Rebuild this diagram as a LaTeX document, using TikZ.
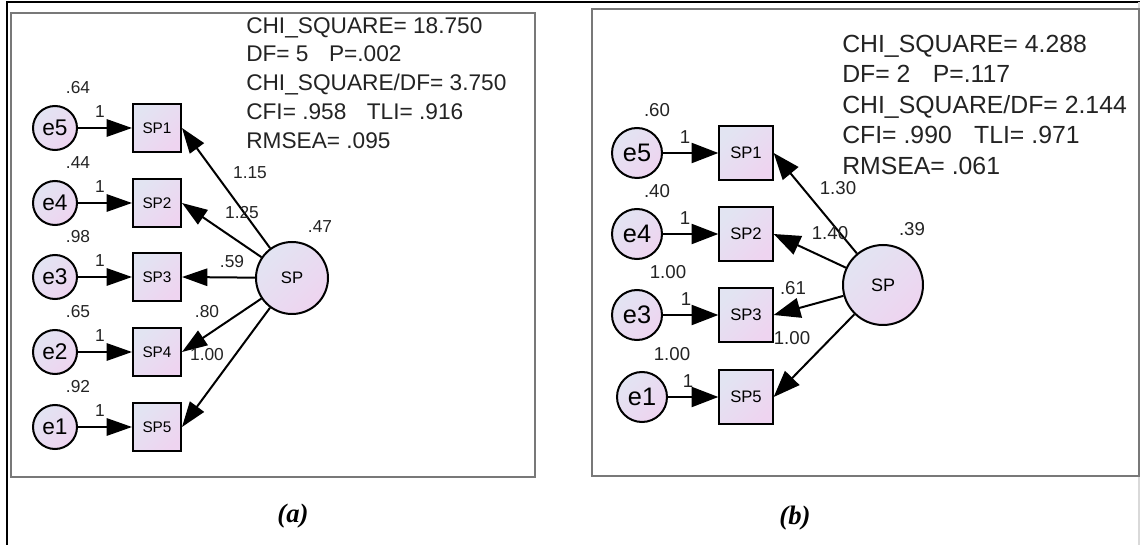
\documentclass[tikz,border=0pt]{standalone}
\usepackage{fontspec}
\setmainfont{Liberation Sans}
\newfontfamily\capfont{Liberation Serif}
\usetikzlibrary{arrows.meta}
\definecolor{lavA}{RGB}{226,228,242}
\definecolor{lavB}{RGB}{238,212,240}
\definecolor{framegrey}{RGB}{120,120,120}
\definecolor{ink}{RGB}{35,35,35}
\begin{document}
\begin{tikzpicture}[x=0.75pt,y=-0.75pt,
  lav/.style={top color=lavA, bottom color=lavB, shading angle=45, draw=black, line width=1.5pt, inner sep=0pt},
  erra/.style={lav, circle, minimum size=33pt, font=\fontsize{17}{17}\selectfont},
  errb/.style={lav, circle, minimum size=37.5pt, font=\fontsize{19}{19}\selectfont},
  boxa/.style={lav, rectangle, minimum size=36pt, font=\fontsize{11.5}{11.5}\selectfont},
  boxb/.style={lav, rectangle, minimum size=40pt, font=\fontsize{12.5}{12.5}\selectfont},
  lata/.style={lav, circle, minimum size=54pt, font=\fontsize{12.5}{12.5}\selectfont},
  latb/.style={lav, circle, minimum size=60pt, font=\fontsize{13.5}{13.5}\selectfont},
  lbla/.style={inner sep=0pt, text=ink, font=\fontsize{13}{13}\selectfont},
  lblb/.style={inner sep=0pt, text=ink, font=\fontsize{14}{14}\selectfont},
  arra/.style={line width=1.5pt, -{Triangle[length=19pt,width=13pt]}},
  arrb/.style={line width=1.5pt, -{Triangle[length=20pt,width=15pt]}},
  statsbox/.style={inner sep=0pt, anchor=north west, align=left, text=ink},
  panelbox/.style={draw=framegrey, line width=2.2pt},
  captxt/.style={font=\capfont\bfseries\itshape\fontsize{20}{20}\selectfont}
]
\useasboundingbox (0,0) rectangle (1140,545);
% outer frame
\draw[line width=1.6pt] (7,545) -- (7,2) -- (1140,2);
\draw[line width=0.8pt, draw=black!15] (1139,2) -- (1139,545);
% panels
\draw[panelbox] (11,13) rectangle (535,477);
\draw[panelbox] (592,9) rectangle (1139,476);

% ---------- panel (a) ----------
\node[statsbox, font=\fontsize{17}{21.6}\selectfont] (afit) at (246,17)
 {CHI\_SQUARE= 18.750\\ DF= 5\hspace{0.9em}P=.002\\ CHI\_SQUARE/DF= 3.750\\ CFI= .958\hspace{0.9em}TLI= .916\\ RMSEA= .095};
\node[lata] (aSP) at (292,278) {SP};
\node[lbla] (aSPv) at (320,227) {.47};
\foreach \r/\e/\b/\v in {128/e5/SP1/.64, 203/e4/SP2/.44, 277/e3/SP3/.98, 352/e2/SP4/.65, 427/e1/SP5/.92}{
  \node[erra] (a\e) at (55,\r) {\e};
  \node[boxa] (a\b) at (157,\r) {\b};
  \node[lbla] (a\e v) at (78,\r-40) {\v};
  \node[lbla] (a\e w) at (100,\r-16) {1};
  \draw[arra] (a\e) -- (a\b);
  \draw[arra] (aSP) -- (a\b.east);
}
\node[lbla] (al1) at (250,173) {1.15};
\node[lbla] (al2) at (242,213) {1.25};
\node[lbla] (al3) at (232,262) {.59};
\node[lbla] (al4) at (207,312) {.80};
\node[lbla] (al5) at (207,355) {1.00};
\node[captxt] (capa) at (293,516) {(a)};

% ---------- panel (b) ----------
\node[statsbox, font=\fontsize{18.6}{22.8}\selectfont] (bfit) at (842,35)
 {CHI\_SQUARE= 4.288\\ DF= 2\hspace{0.9em}P=.117\\ CHI\_SQUARE/DF= 2.144\\ CFI= .990\hspace{0.9em}TLI= .971\\ RMSEA= .061};
\node[latb] (bSP) at (883,285) {SP};
\node[lblb] (bSPv) at (912,229) {.39};
\foreach \r/\ex/\e/\b/\v/\vx/\wx in {153/637/e5/SP1/.60/657/685, 234/637/e4/SP2/.40/657/685, 315/637/e3/SP3/1.00/668/686, 397/642/e1/SP5/1.00/672/688}{
  \node[errb] (b\e) at (\ex,\r) {\e};
  \node[boxb] (b\b) at (746,\r) {\b};
  \node[lblb] (b\e v) at (\vx,\r-43) {\v};
  \node[lblb] (b\e w) at (\wx,\r-16) {1};
  \draw[arrb] (b\e) -- (b\b);
  \draw[arrb] (bSP) -- (b\b.east);
}
\node[lblb] (bl1) at (838,188) {1.30};
\node[lblb] (bl2) at (830,233) {1.40};
\node[lblb] (bl3) at (793,288) {.61};
\node[lblb] (bl4) at (792,338) {1.00};
\node[captxt] (capb) at (795,518) {(b)};
\end{tikzpicture}
\end{document}
